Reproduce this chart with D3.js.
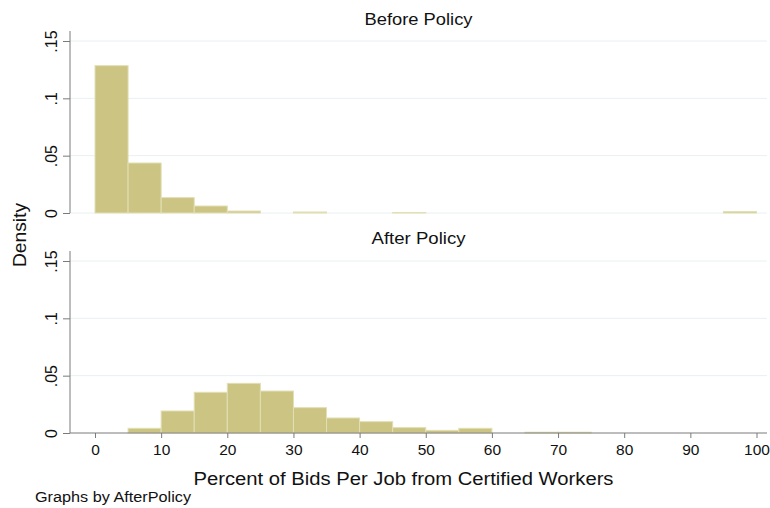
<!DOCTYPE html>
<html>
<head>
<meta charset="utf-8">
<script src="https://cdn.jsdelivr.net/npm/d3@7"></script>
<style>
    body { margin: 0; background: #fff; }
    text { font-family: 'Liberation Sans', Arial, sans-serif; fill: #111; }
</style>
</head>
<body>
<div id="chart"></div>
<script>
// histogram data (bin width 5, density)
var binStarts       =   [ 0, 5, 10, 15, 20, 25, 30, 35, 40, 45, 50, 55, 60, 65, 70, 75, 80, 85, 90, 95 ];
var beforeDensity   =   [ 0.1285, 0.0436, 0.0134, 0.0061, 0.0017, 0, 0.0009, 0, 0, 0.0004,
                          0, 0, 0, 0, 0, 0, 0, 0, 0, 0.0012 ];
var afterDensity    =   [ 0, 0.0041, 0.0192, 0.0355, 0.0433, 0.0366, 0.0221, 0.0131, 0.0099, 0.0047,
                          0.0023, 0.0041, 0, 0.0007, 0.0007, 0, 0, 0, 0, 0 ];
var panelTitles     =   [ 'Before Policy', 'After Policy' ];
var xTicks          =   [ 0, 10, 20, 30, 40, 50, 60, 70, 80, 90, 100 ];
var yTicks          =   [ 0, 0.05, 0.1, 0.15 ];
var yTickLabels     =   [ '0', '.05', '.1', '.15' ];

var chart_width     =   770;
var chart_height    =   508;
var bin_width       =   5;
var plot_left       =   70;
var plot_right      =   767;
var bar_fill        =   '#cbc483';
var bar_stroke      =   '#e2dfb4';
var axis_color      =   '#7a7a7a';
var grid_color      =   '#e9f0f1';

var svg             =   d3.select( '#chart' )
    .append( 'svg' )
    .attr( 'width', chart_width )
    .attr( 'height', chart_height );

var x = d3.scaleLinear()
    .domain( [ 0, 100 ] )
    .range( [ 95, 756.5 ] );

// one panel per group
var panels = [
    { title: panelTitles[0], values: beforeDensity, base: 213, titleY: 25 },
    { title: panelTitles[1], values: afterDensity,  base: 433, titleY: 244 }
];

panels.forEach( function( p, pi ){
    var y = d3.scaleLinear()
        .domain( [ 0, 0.15 ] )
        .range( [ p.base, p.base - 172 ] );

    var g = svg.append( 'g' );

    // gridlines
    g.selectAll( 'line.grid' )
        .data( pi === 0 ? yTicks : yTicks.slice( 1 ) )
        .enter()
        .append( 'line' )
        .attr( 'class', 'grid' )
        .attr( 'x1', plot_left )
        .attr( 'x2', plot_right )
        .attr( 'y1', function( d ){ return y( d ); } )
        .attr( 'y2', function( d ){ return y( d ); } )
        .attr( 'stroke', grid_color )
        .attr( 'stroke-width', 1 );

    // bars
    var bars = binStarts.map( function( b, i ){
        return { lo: b, v: p.values[ i ] };
    }).filter( function( d ){ return d.v > 0; } );

    g.selectAll( 'rect' )
        .data( bars )
        .enter()
        .append( 'rect' )
        .attr( 'x', function( d ){ return x( d.lo ); } )
        .attr( 'y', function( d ){ return y( d.v ); } )
        .attr( 'width', function( d ){ return x( d.lo + bin_width ) - x( d.lo ); } )
        .attr( 'height', function( d ){ return y( 0 ) - y( d.v ); } )
        .attr( 'fill', bar_fill )
        .attr( 'stroke', bar_stroke )
        .attr( 'stroke-width', 1 );

    // y axis
    var yAxis = d3.axisLeft( y )
        .tickValues( yTicks )
        .tickFormat( function( d, i ){ return yTickLabels[ i ]; } )
        .tickSize( 7 )
        .tickSizeOuter( 0 );

    var ya = g.append( 'g' )
        .attr( 'transform', 'translate(' + plot_left + ',0)' )
        .call( yAxis );
    ya.select( '.domain' ).remove();
    ya.selectAll( 'line' ).attr( 'stroke', axis_color );
    ya.selectAll( 'text' )
        .attr( 'transform', 'rotate(-90)' )
        .attr( 'x', 0 )
        .attr( 'y', -13 )
        .attr( 'dy', 0 )
        .attr( 'text-anchor', 'middle' )
        .attr( 'font-size', 16 )
        .attr( 'font-family', null );
    ya.append( 'line' )
        .attr( 'x1', 0 )
        .attr( 'x2', 0 )
        .attr( 'y1', y( 0 ) )
        .attr( 'y2', y( 0.15 ) - 10 )
        .attr( 'stroke', axis_color );

    // panel title
    svg.append( 'text' )
        .text( p.title )
        .attr( 'x', ( plot_left + plot_right ) / 2 )
        .attr( 'y', p.titleY )
        .attr( 'text-anchor', 'middle' )
        .attr( 'font-size', 17 )
        .attr( 'textLength', p.title === 'Before Policy' ? 108 : 94 )
        .attr( 'lengthAdjust', 'spacingAndGlyphs' );
});

// x axis (bottom panel only)
var xAxis = d3.axisBottom( x )
    .tickValues( xTicks )
    .tickSize( 5 )
    .tickSizeOuter( 0 )
    .tickPadding( 6 );

var xa = svg.append( 'g' )
    .attr( 'transform', 'translate(0,433)' )
    .call( xAxis );
xa.select( '.domain' ).remove();
xa.selectAll( 'line' ).attr( 'stroke', axis_color );
xa.selectAll( 'text' )
    .attr( 'font-size', 15.5 )
    .attr( 'font-family', null );
xa.append( 'line' )
    .attr( 'x1', plot_left )
    .attr( 'x2', plot_right )
    .attr( 'y1', 0 )
    .attr( 'y2', 0 )
    .attr( 'stroke', axis_color );

// axis titles and note
svg.append( 'text' )
    .text( 'Percent of Bids Per Job from Certified Workers' )
    .attr( 'x', 403.5 )
    .attr( 'y', 485 )
    .attr( 'text-anchor', 'middle' )
    .attr( 'font-size', 18 )
    .attr( 'textLength', 420 )
    .attr( 'lengthAdjust', 'spacingAndGlyphs' );

svg.append( 'text' )
    .text( 'Density' )
    .attr( 'transform', 'translate(26,235) rotate(-90)' )
    .attr( 'text-anchor', 'middle' )
    .attr( 'font-size', 19 )
    .attr( 'textLength', 64 )
    .attr( 'lengthAdjust', 'spacingAndGlyphs' );

svg.append( 'text' )
    .text( 'Graphs by AfterPolicy' )
    .attr( 'x', 35 )
    .attr( 'y', 502 )
    .attr( 'font-size', 14 )
    .attr( 'textLength', 156 )
    .attr( 'lengthAdjust', 'spacingAndGlyphs' );
</script>
</body>
</html>
